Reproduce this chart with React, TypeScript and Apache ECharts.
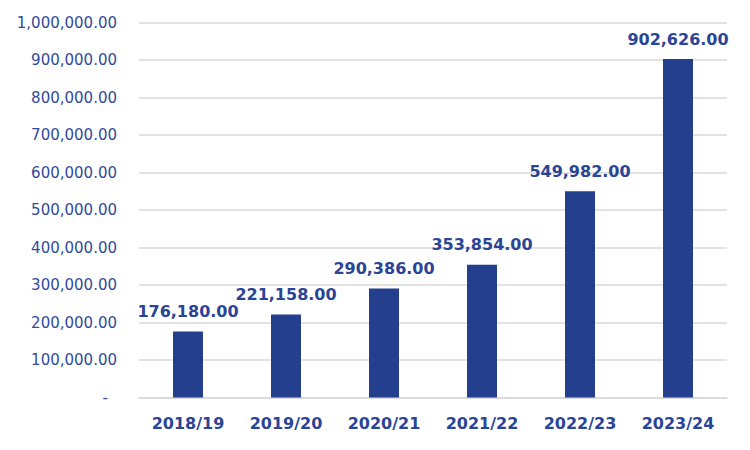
import React, { useEffect, useRef } from "react";
import * as echarts from "echarts";

const categories = ["2018/19", "2019/20", "2020/21", "2021/22", "2022/23", "2023/24"];
const values = [176180, 221158, 290386, 353854, 549982, 902626];

const fmt = (v: number) =>
  v.toLocaleString("en-US", { minimumFractionDigits: 2, maximumFractionDigits: 2 });

export default function App() {
  const ref = useRef<HTMLDivElement>(null);
  useEffect(() => {
    if (!ref.current) return;
    const chart = echarts.init(ref.current, null, { renderer: "svg" });
    chart.setOption({
      animation: false,
      backgroundColor: "#ffffff",
      grid: { left: 139, right: 23, top: 22.5, bottom: 52.5, containLabel: false },
      xAxis: {
        type: "category",
        data: categories,
        axisLine: { show: true, lineStyle: { color: "#d9d9d9", width: 1.5 } },
        axisTick: { show: false },
        axisLabel: {
          color: "#2a4496",
          fontFamily: "DejaVu Sans",
          fontWeight: "bold",
          fontSize: 16,
          margin: 18,
        },
      },
      yAxis: {
        type: "value",
        min: 0,
        max: 1000000,
        interval: 100000,
        axisLine: { show: false },
        axisTick: { show: false },
        splitLine: { lineStyle: { color: "#d9d9d9", width: 1.5 } },
        axisLabel: {
          color: "#2f4b9b",
          fontFamily: "DejaVu Sans",
          fontSize: 15,
          margin: 22,
          formatter: (v: number) => (v === 0 ? "{d|-}" : fmt(v)),
          rich: { d: { padding: [0, 9, 0, 0], color: "#2f4b9b", fontSize: 15, fontFamily: "DejaVu Sans" } },
        },
      },
      series: [
        {
          type: "bar",
          data: values,
          barWidth: 30,
          itemStyle: { color: "#233f8e" },
          label: {
            show: true,
            position: "top",
            distance: 12,
            color: "#2a4496",
            fontFamily: "DejaVu Sans",
            fontWeight: "bold",
            fontSize: 16,
            formatter: (p: any) => fmt(p.value),
          },
        },
      ],
    });
    return () => chart.dispose();
  }, []);
  return <div ref={ref} style={{ width: 750, height: 450, position: "absolute", left: 0, top: 0 }} />;
}
